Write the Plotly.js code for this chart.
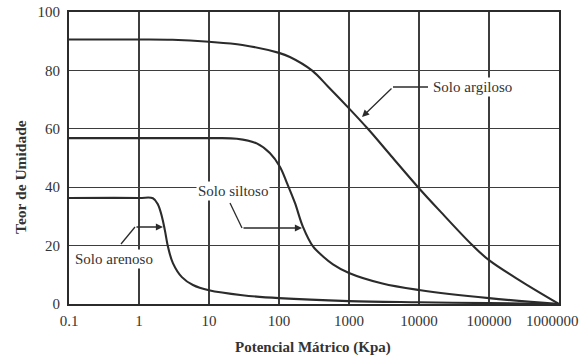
<!DOCTYPE html>
<html>
<head>
<meta charset="utf-8">
<script src="https://cdn.plot.ly/plotly-3.0.1.min.js"></script>
<style>html,body{margin:0;padding:0;background:#fff;}</style>
</head>
<body>
<div id="chart" style="width:582px;height:356px;"></div>
<script>
// Pressure (kPa) and moisture content (%)
const argX = [0.1, 1, 3, 10, 30, 100, 143, 295, 500, 1000, 1860, 4000, 9700, 20000, 57000, 100000, 300000, 1000000];
const argY = [90.6, 90.6, 90.5, 89.8, 88.7, 86, 84.6, 80, 74.5, 67, 60, 50.7, 40, 31.8, 20.3, 15, 7.5, 0];

const silX = [0.1, 1, 10, 25, 48, 74, 103, 130, 169, 220, 306, 430, 590, 1000, 3000, 10000, 100000, 1000000];
const silY = [56.8, 56.8, 56.8, 56.6, 55, 51.7, 47, 41.4, 34.6, 26.4, 19.7, 16.2, 13.6, 10.6, 7, 4.8, 2, 0];

const areX = [0.1, 1, 1.58, 1.87, 2.13, 2.34, 2.6, 3.05, 4.1, 5.9, 10, 30, 100, 1000, 10000, 100000, 1000000];
const areY = [36.3, 36.3, 36.2, 34, 29.8, 25.3, 19.5, 14, 9.2, 6.5, 4.7, 3, 2, 1.0, 0.6, 0.3, 0];

const xTickVals = [0.1, 1, 10, 100, 1000, 10000, 100000, 1000000];
const xTickText = ['0.1', '1', '10', '100', '1000', '10000', '100000', '1000000'];
const yTickVals = [0, 20, 40, 60, 80, 100];

const seriesNames = ['Solo argiloso', 'Solo siltoso', 'Solo arenoso'];
const xTitle = 'Potencial Mátrico (Kpa)';
const yTitle = 'Teor de Umidade';

const lineColor = '#2b2b2b';
const gridColor = '#3d3d3d';
const serif = 'Liberation Serif, Times New Roman, serif';

function curve(x, y, name) {
  return {
    x: x, y: y, name: name, type: 'scatter', mode: 'lines',
    line: {color: lineColor, width: 2.1, shape: 'spline', smoothing: 1.0},
    hoverinfo: 'x+y+name', showlegend: false
  };
}

const data = [
  curve(argX, argY, seriesNames[0]),
  curve(silX, silY, seriesNames[1]),
  curve(areX, areY, seriesNames[2])
];

// pixel -> paper helpers for label placement (plot area 69..559 x 12..304)
const L = 69, R = 559, T = 12, B = 304;
const px = v => (v - L) / (R - L);
const py = v => (B - v) / (B - T);

function arrow(hx, hy, ax, ay) {
  return {xref: 'paper', yref: 'paper', x: px(hx), y: py(hy), text: '',
    showarrow: true, ax: ax, ay: ay, arrowhead: 2, arrowsize: 1.1,
    arrowwidth: 1.3, arrowcolor: lineColor, standoff: 0, startstandoff: 0};
}
function seg(x0, y0, x1, y1) {
  return {type: 'line', xref: 'paper', yref: 'paper',
    x0: px(x0), y0: py(y0), x1: px(x1), y1: py(y1),
    line: {color: lineColor, width: 1.3}};
}
const labFont = {family: serif, size: 15, color: '#333'};
const tickFont = {family: serif, size: 15, color: '#333'};

// last x tick label sits flush with the right edge (as in the reference)
const shownTickText = xTickText.slice(0, -1).concat(['']);
const lastTick = xTickText[xTickText.length - 1];

const layout = {
  width: 582, height: 356,
  margin: {l: L, r: 582 - R, t: T, b: 356 - B},
  paper_bgcolor: '#fff', plot_bgcolor: '#fff',
  showlegend: false,
  xaxis: {
    type: 'log', range: [-1, 6],
    tickvals: xTickVals, ticktext: shownTickText,
    showgrid: true, gridcolor: gridColor, gridwidth: 1.3,
    showline: true, mirror: true, linecolor: lineColor, linewidth: 2,
    zeroline: false, ticks: 'outside', ticklen: 2, tickcolor: 'rgba(0,0,0,0)',
    tickfont: tickFont
  },
  yaxis: {
    range: [0, 100], tickvals: yTickVals,
    showgrid: true, gridcolor: gridColor, gridwidth: 1.3,
    showline: true, mirror: true, linecolor: lineColor, linewidth: 2,
    zeroline: false, ticks: 'outside', ticklen: 4, tickcolor: 'rgba(0,0,0,0)',
    tickfont: tickFont
  },
  shapes: [
    seg(393, 87, 428, 87),
    seg(230, 203, 242, 228),
    seg(121, 244, 135, 227)
  ],
  annotations: [
    arrow(362, 117, 31, -30),
    {xref: 'paper', yref: 'paper', x: px(431), y: py(87), xanchor: 'left', yanchor: 'middle',
     text: seriesNames[0], showarrow: false, font: labFont, bgcolor: '#fff', borderpad: 1},
    arrow(302, 228, -60, 0),
    {xref: 'paper', yref: 'paper', x: px(232.5), y: py(191), xanchor: 'center', yanchor: 'middle',
     text: seriesNames[1], showarrow: false, font: labFont, bgcolor: '#fff', borderpad: 1},
    arrow(163, 227, -28, 0),
    {xref: 'paper', yref: 'paper', x: px(73), y: py(259), xanchor: 'left', yanchor: 'middle',
     text: seriesNames[2], showarrow: false, font: labFont, bgcolor: '#fff', borderpad: 1},
    {xref: 'paper', yref: 'paper', x: px(580), y: py(321), xanchor: 'right', yanchor: 'middle',
     text: lastTick, showarrow: false, font: tickFont, borderpad: 0},
    {xref: 'paper', yref: 'paper', x: px(312.5), y: py(347), xanchor: 'center', yanchor: 'middle',
     text: '<b>' + xTitle + '</b>', showarrow: false, font: {family: serif, size: 15, color: '#333'}},
    {xref: 'paper', yref: 'paper', x: px(21), y: py(177), xanchor: 'center', yanchor: 'middle',
     text: '<b>' + yTitle + '</b>', textangle: -90, showarrow: false,
     font: {family: serif, size: 15.5, color: '#333'}}
  ]
};

Plotly.newPlot('chart', data, layout, {displayModeBar: false, staticPlot: true});
</script>
</body>
</html>
